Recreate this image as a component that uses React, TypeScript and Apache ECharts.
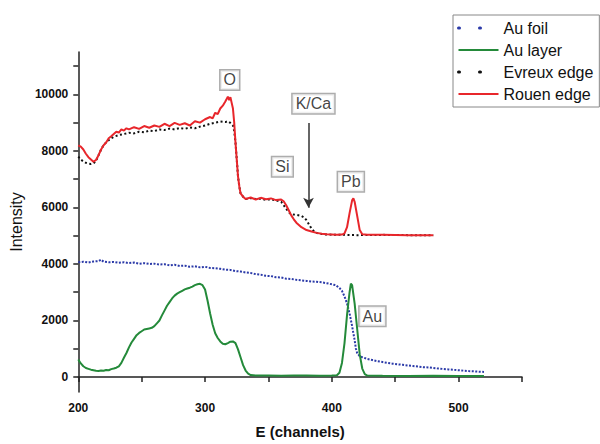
import React, { useEffect, useRef } from "react";
import * as echarts from "echarts";

// ---- data ----
const auFoil: [number, number][] = [
  [200, 4060], [204, 4080], [208, 4050], [212, 4090], [216, 4100], [218, 4150], [220, 4080],
  [224, 4060], [228, 4070], [232, 4040], [236, 4060], [240, 4030], [244, 4050], [248, 4010],
  [252, 4030], [256, 4000], [260, 4010], [264, 3980], [268, 3990], [272, 3950], [276, 3970],
  [280, 3930], [284, 3940], [288, 3900], [292, 3920], [296, 3880], [300, 3900], [304, 3860],
  [308, 3850], [312, 3830], [316, 3800], [320, 3790], [324, 3750], [328, 3730], [332, 3700],
  [336, 3680], [340, 3640], [344, 3620], [348, 3580], [352, 3570], [356, 3530], [360, 3520],
  [364, 3480], [368, 3470], [372, 3440], [376, 3420], [380, 3400], [384, 3380], [388, 3370],
  [392, 3350], [396, 3320], [400, 3280], [403, 3250], [406, 3150], [408, 3050], [410, 2850],
  [412, 2600], [414, 2250], [416, 1800], [418, 1300], [419, 1000], [420, 850], [422, 740],
  [424, 700], [428, 640], [432, 600], [436, 560], [440, 530], [444, 500], [448, 470],
  [452, 450], [456, 430], [460, 410], [464, 390], [468, 370], [472, 350], [476, 340],
  [480, 320], [484, 300], [488, 285], [492, 270], [496, 255], [500, 240], [504, 225],
  [508, 210], [512, 200], [516, 190], [520, 180],
];

const auLayer: [number, number][] = [
  [200, 620], [202, 480], [204, 380], [206, 320], [208, 290], [210, 260], [212, 240],
  [214, 220], [216, 210], [218, 230], [220, 220], [222, 250], [224, 240], [226, 280],
  [228, 300], [230, 330], [232, 380], [234, 500], [236, 680], [238, 850], [240, 1050],
  [242, 1220], [244, 1350], [246, 1480], [248, 1560], [250, 1620], [252, 1680], [254, 1700],
  [256, 1720], [258, 1740], [260, 1800], [262, 1900], [264, 2000], [266, 2180], [268, 2350],
  [270, 2520], [272, 2650], [274, 2780], [276, 2880], [278, 2950], [280, 3000], [282, 3050],
  [284, 3100], [286, 3130], [288, 3160], [290, 3200], [292, 3250], [294, 3280], [296, 3300],
  [298, 3250], [300, 3100], [302, 2700], [304, 2250], [306, 1850], [308, 1550], [310, 1380],
  [312, 1260], [314, 1180], [316, 1160], [318, 1200], [320, 1250], [322, 1260], [324, 1200],
  [326, 980], [328, 700], [330, 420], [332, 230], [334, 120], [336, 70], [340, 50],
  [350, 55], [360, 45], [370, 55], [380, 50], [390, 45], [400, 55], [404, 60], [406, 150],
  [408, 500], [410, 1200], [412, 2200], [414, 3000], [415, 3300], [416, 3250], [418, 2600],
  [420, 1700], [422, 800], [424, 300], [426, 100], [428, 50], [440, 45], [460, 40],
  [480, 45], [500, 40], [520, 40],
];

const evreuxEdge: [number, number][] = [
  [200, 7800], [202, 7700], [204, 7620], [206, 7580], [208, 7550], [210, 7540], [212, 7560],
  [214, 7650], [216, 7850], [218, 8050], [220, 8200], [222, 8300], [224, 8380], [226, 8450],
  [228, 8500], [232, 8560], [236, 8600], [240, 8640], [244, 8620], [248, 8680], [252, 8660],
  [256, 8720], [260, 8700], [264, 8760], [268, 8740], [272, 8790], [276, 8760], [280, 8810],
  [284, 8780], [288, 8830], [292, 8800], [296, 8860], [300, 8900], [304, 8960], [308, 9000],
  [312, 9040], [316, 9020], [318, 9050], [320, 8990], [322, 8900], [323, 8700], [324, 8300],
  [325, 7700], [326, 7100], [327, 6750], [328, 6500], [330, 6380], [332, 6300], [336, 6330],
  [340, 6300], [344, 6310], [348, 6270], [352, 6290], [356, 6250], [360, 6200], [362, 6080],
  [364, 5950], [366, 5830], [368, 5760], [372, 5740], [376, 5700], [378, 5650], [380, 5550],
  [382, 5400], [384, 5250], [386, 5150], [388, 5100], [392, 5060], [396, 5040], [410, 5030],
  [420, 5020], [440, 5030], [460, 5020], [480, 5020],
];

const rouenEdge: [number, number][] = [
  [200, 8200], [202, 8150], [204, 8050], [206, 7900], [208, 7780], [210, 7700], [212, 7620],
  [214, 7680], [216, 7850], [218, 8050], [220, 8200], [222, 8300], [224, 8450], [226, 8520],
  [228, 8600], [230, 8680], [232, 8650], [234, 8760], [236, 8720], [238, 8800], [240, 8760],
  [244, 8840], [248, 8780], [252, 8880], [256, 8820], [260, 8900], [264, 8850], [268, 8960],
  [272, 8880], [276, 8990], [280, 8920], [284, 8980], [288, 8900], [292, 9050], [296, 9000],
  [300, 9120], [304, 9200], [306, 9150], [308, 9350], [310, 9300], [312, 9500], [314, 9600],
  [316, 9750], [318, 9920], [319, 9800], [320, 9900], [321, 9700], [322, 9500], [323, 9000],
  [324, 8300], [325, 7700], [326, 7100], [327, 6750], [328, 6500], [330, 6380], [332, 6300],
  [336, 6350], [340, 6280], [344, 6340], [348, 6290], [352, 6320], [356, 6260], [360, 6280],
  [362, 6220], [364, 6080], [366, 5900], [368, 5720], [370, 5580], [372, 5460], [374, 5380],
  [376, 5300], [378, 5250], [380, 5200], [384, 5150], [388, 5100], [392, 5070], [396, 5050],
  [400, 5040], [404, 5030], [408, 5040], [410, 5080], [412, 5300], [414, 5800], [416, 6250],
  [417, 6320], [418, 6200], [420, 5700], [422, 5200], [424, 5050], [428, 5030], [440, 5030],
  [460, 5020], [480, 5020],
];

const annotationLabels = ["O", "K/Ca", "Si", "Pb", "Au"];
const annotationX = [319.5, 385.5, 361, 415, 432];
const annotationY = [10510, 9665, 7440, 6910, 2150];
const arrowX = 381.6;
const arrowFromY = 8990;
const arrowToY = 5990;

const xLabelValues = [200, 300, 400, 500];
const xTickValues = [200, 250, 300, 350, 400, 450, 500, 550];
const yLabelValues = [0, 2000, 4000, 6000, 8000, 10000];
const yTickValues = [0, 1000, 2000, 3000, 4000, 5000, 6000, 7000, 8000, 9000, 10000, 11000];

const FONT = "Liberation Sans, Arial, sans-serif";

export default function App() {
  const ref = useRef<HTMLDivElement>(null);
  useEffect(() => {
    if (!ref.current) return;
    const chart = echarts.init(ref.current, undefined, { renderer: "svg" });
    const dotted = { width: 3, type: [1, 20] as number[], cap: "round" };
    const hiddenSymbol = { opacity: 0 };
    chart.setOption({
      animation: false,
      backgroundColor: "#ffffff",
      textStyle: { fontFamily: FONT },
      grid: { left: 76, right: 78, top: 52, bottom: 51 },
      legend: {
        orient: "vertical",
        left: 453,
        top: 15,
        width: 144,
        padding: [5, 6, 5, 4],
        itemGap: 6,
        itemWidth: 40,
        itemHeight: 14,
        borderColor: "#888",
        borderWidth: 1,
        itemStyle: hiddenSymbol,
        textStyle: { fontFamily: FONT, fontSize: 16, color: "#111" },
        data: [
          { name: "Au foil", itemStyle: hiddenSymbol, lineStyle: { ...dotted, color: "#2b3aa8" } },
          { name: "Au layer", itemStyle: hiddenSymbol },
          { name: "Evreux edge", itemStyle: hiddenSymbol, lineStyle: { ...dotted, color: "#111" } },
          { name: "Rouen edge", itemStyle: hiddenSymbol },
        ],
      },
      xAxis: {
        type: "value",
        min: 200,
        max: 550,
        name: "E (channels)",
        nameLocation: "middle",
        nameGap: 32,
        nameTextStyle: { fontFamily: FONT, fontSize: 15, fontWeight: "bold", color: "#111" },
        axisLine: { lineStyle: { color: "#222", width: 1.5 } },
        axisTick: { show: true, inside: false, length: 5, customValues: xTickValues, lineStyle: { color: "#222", width: 1.5 } },
        axisLabel: {
          customValues: xLabelValues,
          formatter: (v: number) => String(v),
          fontFamily: FONT, fontSize: 12, fontWeight: "bold", color: "#111", margin: 10,
        },
        splitLine: { show: false },
      },
      yAxis: {
        type: "value",
        min: -530,
        max: 11500,
        name: "Intensity",
        nameLocation: "middle",
        nameGap: 50,
        nameTextStyle: { fontFamily: FONT, fontSize: 16, color: "#111" },
        axisLine: { show: true, lineStyle: { color: "#222", width: 1.5 } },
        axisTick: { show: true, inside: false, length: 5, customValues: yTickValues, lineStyle: { color: "#222", width: 1.5 } },
        axisLabel: {
          customValues: yLabelValues,
          formatter: (v: number) => String(v),
          fontFamily: FONT, fontSize: 12, fontWeight: "bold", color: "#111", margin: 10,
        },
        splitLine: { show: false },
      },
      series: [
        {
          name: "Au foil",
          type: "line",
          data: auFoil,
          symbol: "none",
          showSymbol: false,
          color: "#2b3aa8",
          lineStyle: { color: "#2b3aa8", width: 2, type: [2, 1.5] },
        },
        {
          name: "Au layer",
          type: "line",
          data: auLayer,
          symbol: "none",
          showSymbol: false,
          color: "#248a3a",
          lineStyle: { color: "#248a3a", width: 2 },
        },
        {
          name: "Evreux edge",
          type: "line",
          data: evreuxEdge,
          symbol: "none",
          showSymbol: false,
          color: "#111",
          lineStyle: { color: "#111", width: 2, type: [2, 2.5] },
        },
        {
          name: "Rouen edge",
          type: "line",
          data: rouenEdge,
          symbol: "none",
          showSymbol: false,
          color: "#e8262b",
          lineStyle: { color: "#e8262b", width: 2 },
        },
        {
          name: "annotations",
          type: "scatter",
          data: annotationLabels.map((t, i) => [annotationX[i], annotationY[i], t]),
          symbolSize: 1,
          itemStyle: { color: "rgba(0,0,0,0)" },
          silent: true,
          z: 10,
          label: {
            show: true,
            position: "inside",
            formatter: (p: any) => p.value[2],
            fontFamily: FONT,
            fontSize: 16,
            color: "#111",
            backgroundColor: "#ffffff",
            borderColor: "#999",
            borderWidth: 1.5,
            padding: [2, 3, 1, 3],
          },
          markLine: {
            silent: true,
            symbol: ["none", "arrow"],
            symbolSize: [8, 10],
            label: { show: false },
            lineStyle: { color: "#333", width: 1.5, type: "solid" },
            data: [[{ coord: [arrowX, arrowFromY] }, { coord: [arrowX, arrowToY] }]],
          },
        },
      ],
    });
    return () => chart.dispose();
  }, []);
  return (
    <div
      ref={ref}
      style={{ position: "absolute", left: 0, top: 0, width: 600, height: 444 }}
    />
  );
}
